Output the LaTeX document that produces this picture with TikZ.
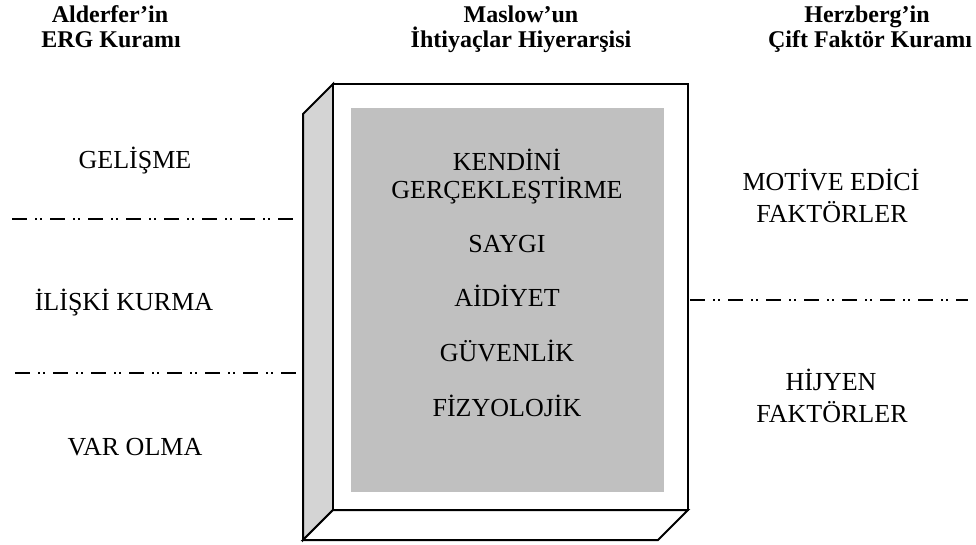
\documentclass[tikz,border=0pt]{standalone}
\usepackage{fontspec}
\setmainfont{Liberation Serif}
\definecolor{innergray}{RGB}{192,192,192}
\definecolor{sidegray}{RGB}{212,212,212}
\begin{document}
\begin{tikzpicture}[x=1pt,y=-1pt,
  head/.style={font=\fontsize{24}{25}\selectfont\bfseries, align=center, anchor=base, inner sep=0pt},
  lbl/.style={font=\fontsize{26}{31}\selectfont, align=center, anchor=base, inner sep=0pt},
  boxline/.style={draw=black, line width=2pt, line join=miter},
  sep/.style={draw=black, line width=2pt, dash pattern=on 15pt off 8pt on 2pt off 3pt on 2pt off 8pt}]
\useasboundingbox (0,0) rectangle (976,544);
% box
\path[boxline, fill=sidegray] (333,84) -- (303,114) -- (303,540) -- (333,510) -- cycle;
\path[boxline, fill=white] (303,540) -- (658,540) -- (688,510) -- (333,510) -- cycle;
\path[boxline, fill=white] (333,84) rectangle (688,510);
\fill[innergray] (351,108) rectangle (664,492);
% headers
\node[head] (h1) at (110,22) {Alderfer’in};
\node[head] (h1b) at (111,47) {ERG Kuramı};
\node[head] (h2) at (521,22) {Maslow’un};
\node[head] (h2b) at (521,47) {İhtiyaçlar Hiyerarşisi};
\node[head] (h3) at (867,22) {Herzberg’in};
\node[head] (h3b) at (870,47) {Çift Faktör Kuramı};
% left labels
\node[lbl] (gel) at (135,168) {GELİŞME};
\node[lbl] (ili) at (124,310) {İLİŞKİ KURMA};
\node[lbl] (var) at (135,455) {VAR OLMA};
% inner labels
\node[lbl] (ken) at (507,170) {KENDİNİ};
\node[lbl] (ger) at (507,198) {GERÇEKLEŞTİRME};
\node[lbl] (say) at (507,252) {SAYGI};
\node[lbl] (aid) at (507,306) {AİDİYET};
\node[lbl] (guv) at (507,361) {GÜVENLİK};
\node[lbl] (fiz) at (507,416) {FİZYOLOJİK};
% right labels
\node[lbl] (mot) at (831,190) {MOTİVE EDİCİ};
\node[lbl] (fak1) at (832,222) {FAKTÖRLER};
\node[lbl] (hij) at (831,390) {HİJYEN};
\node[lbl] (fak2) at (832,422) {FAKTÖRLER};
% separators
\coordinate (l1a) at (12,219); \coordinate (l1b) at (293,219);
\coordinate (l2a) at (15,373); \coordinate (l2b) at (296,373);
\coordinate (r1a) at (690,300); \coordinate (r1b) at (968,300);
\draw[sep] (l1a) -- (l1b);
\draw[sep] (l2a) -- (l2b);
\draw[sep] (r1a) -- (r1b);
\end{tikzpicture}
\end{document}
